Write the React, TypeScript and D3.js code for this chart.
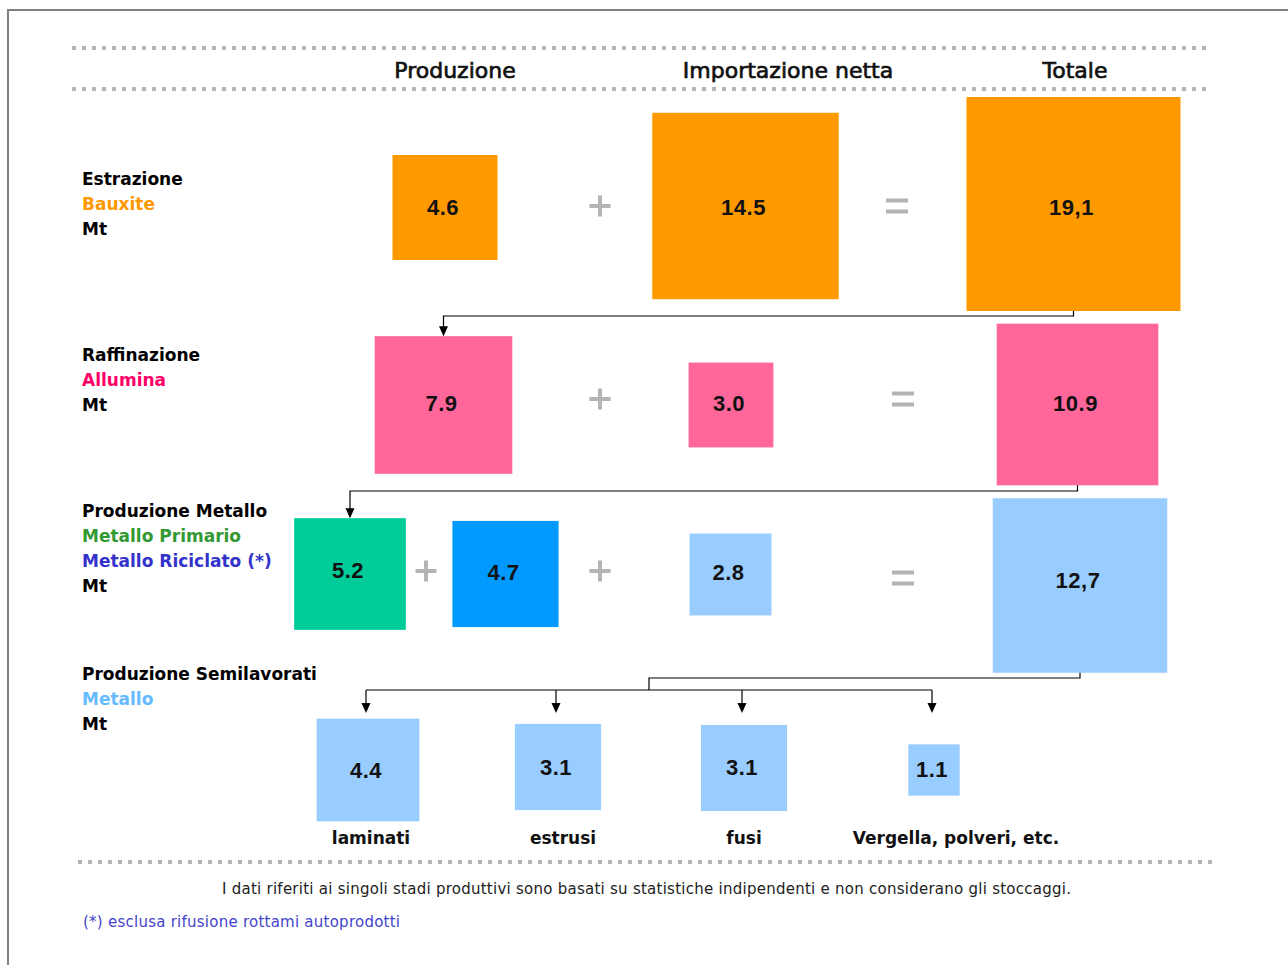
import { useEffect, useRef } from 'react';
import * as d3 from 'd3';

// column headers
const columns = ['Produzione', 'Importazione netta', 'Totale'];

// stage titles + sub labels
const stageTitles = ['Estrazione', 'Raffinazione', 'Produzione Metallo', 'Produzione Semilavorati'];
const stageProducts = [['Bauxite'], ['Allumina'], ['Metallo Primario', 'Metallo Riciclato (*)'], ['Metallo']];
const unitLabel = 'Mt';

// values (Mt)
const bauxiteValues = [4.6, 14.5, 19.1];
const bauxiteLabels = ['4.6', '14.5', '19,1'];
const aluminaValues = [7.9, 3.0, 10.9];
const aluminaLabels = ['7.9', '3.0', '10.9'];
const metalValues = [5.2, 4.7, 2.8, 12.7];
const metalLabels = ['5.2', '4.7', '2.8', '12,7'];
const semiCategories = ['laminati', 'estrusi', 'fusi', 'Vergella, polveri, etc.'];
const semiValues = [4.4, 3.1, 3.1, 1.1];
const semiLabels = ['4.4', '3.1', '3.1', '1.1'];

const footNote =
  'I dati riferiti ai singoli stadi produttivi sono basati su statistiche indipendenti e non considerano gli stoccaggi.';
const starNote = '(*) esclusa rifusione rottami autoprodotti';

const W = 1288;
const H = 965;
const LABEL_FONT = "'DejaVu Sans', Verdana, sans-serif";
const NUM_FONT = "'Liberation Sans', Arial, sans-serif";

const ORANGE = '#ff9900';
const PINK = '#ff6699';
const GREEN = '#00cc99';
const BLUE = '#0099ff';
const LIGHT = '#99ccff';
const GREY = '#b4b4b4';

export default function App() {
  const svgRef = useRef<SVGSVGElement>(null);

  useEffect(() => {
    if (!svgRef.current) return;
    const svg = d3.select(svgRef.current);
    svg.selectAll('*').remove();

    // square side ~ sqrt(value) so area is proportional
    const side = d3.scaleSqrt().domain([0, 19.1]).range([0, 214]);

    // frame
    svg
      .append('path')
      .attr('d', `M8,${H} L8,10 L${W},10`)
      .attr('fill', 'none')
      .attr('stroke', '#808080')
      .attr('stroke-width', 2);

    // dotted rules
    const rule = (x1: number, x2: number, y: number) =>
      svg
        .append('line')
        .attr('x1', x1)
        .attr('x2', x2)
        .attr('y1', y)
        .attr('y2', y)
        .attr('stroke', GREY)
        .attr('stroke-width', 4)
        .attr('stroke-dasharray', '4,6');
    rule(72, 1208, 48);
    rule(72, 1208, 89);
    rule(78, 1214, 862);

    // headers
    const headerX = [455, 788, 1075];
    svg
      .selectAll('.hdr')
      .data(columns)
      .enter()
      .append('text')
      .attr('x', (d, i) => headerX[i])
      .attr('y', 70)
      .attr('text-anchor', 'middle')
      .attr('dominant-baseline', 'central')
      .style('font-family', LABEL_FONT)
      .style('font-size', '22px')
      .attr('fill', '#111')
      .attr('stroke', '#111')
      .attr('stroke-width', 0.7)
      .text(d => d);

    // stage labels on the left
    const stageY = [179, 355, 511, 674];
    const productColors = [[ORANGE], ['#ff0066'], ['#339933', '#3333cc'], ['#66bbff']];
    stageTitles.forEach((t, i) => {
      const lines = [
        { text: t, color: '#000' },
        ...stageProducts[i].map((p, j) => ({ text: p, color: productColors[i][j] })),
        { text: unitLabel, color: '#000' },
      ];
      svg
        .append('g')
        .selectAll('text')
        .data(lines)
        .enter()
        .append('text')
        .attr('x', 82)
        .attr('y', (d, j) => stageY[i] + j * 25)
        .attr('dominant-baseline', 'central')
        .style('font-family', LABEL_FONT)
        .style('font-size', '17px')
        .style('font-weight', 'bold')
        .attr('fill', d => d.color)
        .text(d => d.text);
    });

    // boxes
    type Box = { v: number; label: string; cx: number; cy: number; ty: number; color: string };
    const row = (
      vals: number[],
      labels: string[],
      xs: number[],
      ys: number[],
      tys: number[],
      colors: string[]
    ): Box[] => vals.map((v, i) => ({ v, label: labels[i], cx: xs[i], cy: ys[i], ty: tys[i], color: colors[i] }));

    const row1 = row(bauxiteValues, bauxiteLabels, [445, 745.5, 1073.5], [207.5, 206, 204], [207, 207, 207], [ORANGE, ORANGE, ORANGE]);
    const row2 = row(aluminaValues, aluminaLabels, [443.5, 731, 1077.5], [405, 405, 404.5], [403, 403, 403], [PINK, PINK, PINK]);
    const row3 = row(metalValues, metalLabels, [350, 505.5, 730.5, 1080], [574, 574, 574.5, 585.5], [570, 572, 572, 580], [GREEN, BLUE, LIGHT, LIGHT]);
    const row4 = row(semiValues, semiLabels, [368, 558, 744, 934], [770, 767, 768, 770], [770, 767, 767, 769], [LIGHT, LIGHT, LIGHT, LIGHT]);
    const boxes = [...row1, ...row2, ...row3, ...row4];

    const g = svg.append('g');
    g.selectAll('rect')
      .data(boxes)
      .enter()
      .append('rect')
      .attr('x', d => d.cx - side(d.v) / 2)
      .attr('y', d => d.cy - side(d.v) / 2)
      .attr('width', d => side(d.v))
      .attr('height', d => side(d.v))
      .attr('fill', d => d.color);

    g.selectAll('.num')
      .data(boxes)
      .enter()
      .append('text')
      .attr('x', d => d.cx - 2)
      .attr('y', d => d.ty)
      .attr('text-anchor', 'middle')
      .attr('dominant-baseline', 'central')
      .style('font-family', NUM_FONT)
      .style('font-size', '22px')
      .style('font-weight', 'bold')
      .style('letter-spacing', '0.5px')
      .attr('fill', '#111')
      .text(d => d.label);

    // semilavorati names under the boxes
    const semiLabelX = [371, 563, 744, 956];
    svg
      .selectAll('.semi')
      .data(semiCategories)
      .enter()
      .append('text')
      .attr('x', (d, i) => semiLabelX[i])
      .attr('y', 838)
      .attr('text-anchor', 'middle')
      .attr('dominant-baseline', 'central')
      .style('font-family', LABEL_FONT)
      .style('font-size', '17px')
      .style('font-weight', 'bold')
      .attr('fill', '#111')
      .text(d => d);

    // + and = signs
    const plus = (x: number, y: number) => {
      svg.append('rect').attr('x', x - 10.5).attr('y', y - 2).attr('width', 21).attr('height', 4).attr('fill', GREY);
      svg.append('rect').attr('x', x - 2).attr('y', y - 10.5).attr('width', 4).attr('height', 21).attr('fill', GREY);
    };
    const equal = (x: number, y: number) => {
      svg.append('rect').attr('x', x - 11).attr('y', y - 7.5).attr('width', 22).attr('height', 4).attr('fill', GREY);
      svg.append('rect').attr('x', x - 11).attr('y', y + 3.5).attr('width', 22).attr('height', 4).attr('fill', GREY);
    };
    plus(600, 206);
    equal(897, 206);
    plus(600, 399);
    equal(903, 399);
    plus(426, 571);
    plus(600, 571);
    equal(903, 578);

    // connectors
    const arrowHead = (x: number, tip: number) =>
      svg
        .append('path')
        .attr('d', `M${x - 4.5},${tip - 10} L${x + 4.5},${tip - 10} L${x},${tip} Z`)
        .attr('fill', '#000');
    const line = (pts: [number, number][]) =>
      svg
        .append('path')
        .attr('d', d3.line()(pts))
        .attr('fill', 'none')
        .attr('stroke', '#000')
        .attr('stroke-width', 1.2);
    const bottom = (b: Box) => b.cy + side(b.v) / 2;
    const top = (b: Box) => b.cy - side(b.v) / 2;

    const t1 = row1[2];
    const d1 = row2[0];
    line([[t1.cx, bottom(t1)], [t1.cx, 316], [d1.cx, 316], [d1.cx, top(d1) - 2]]);
    arrowHead(d1.cx, top(d1));

    const t2 = row2[2];
    const d2 = row3[0];
    line([[t2.cx, bottom(t2)], [t2.cx, 491], [d2.cx, 491], [d2.cx, top(d2) - 2]]);
    arrowHead(d2.cx, top(d2));

    const t3 = row3[3];
    line([[t3.cx, bottom(t3)], [t3.cx, 678], [649, 678], [649, 690]]);
    line([[row4[0].cx - 2, 690], [row4[3].cx - 2, 690]]);
    row4.forEach(b => {
      line([[b.cx - 2, 690], [b.cx - 2, 708]]);
      arrowHead(b.cx - 2, 713);
    });

    // notes
    svg
      .append('text')
      .attr('x', 222)
      .attr('y', 889)
      .attr('dominant-baseline', 'central')
      .attr('textLength', 849)
      .style('font-family', LABEL_FONT)
      .style('font-size', '15px')
      .attr('fill', '#222')
      .text(footNote);
    svg
      .append('text')
      .attr('x', 83)
      .attr('y', 922)
      .attr('dominant-baseline', 'central')
      .attr('textLength', 317)
      .style('font-family', LABEL_FONT)
      .style('font-size', '15px')
      .attr('fill', '#4444cc')
      .text(starNote);
  }, []);

  return (
    <svg
      ref={svgRef}
      width={W}
      height={H}
      style={{ position: 'absolute', left: 0, top: 0, background: '#fff' }}
    ></svg>
  );
}
